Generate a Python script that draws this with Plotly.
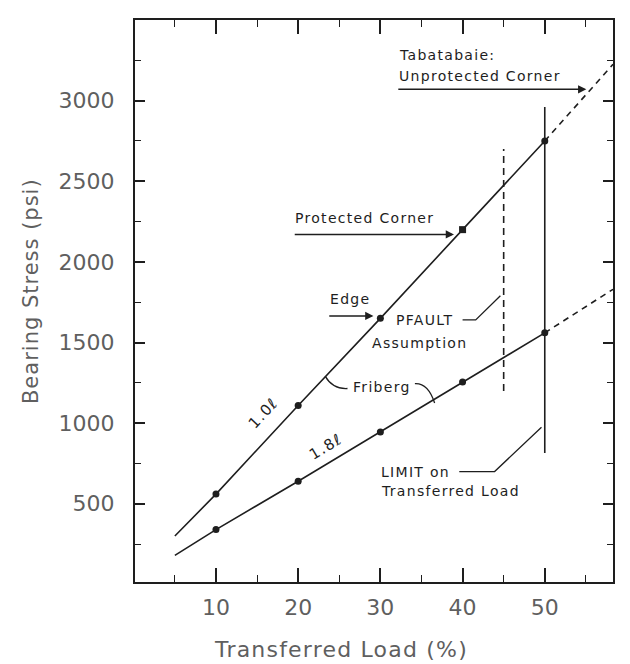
import plotly.graph_objects as go

# ---- data ----
load_pct = [5, 10, 20, 30, 40, 50]
stress_1_0l = [300, 560, 1110, 1650, 2200, 2750]
stress_1_8l = [180, 340, 640, 945, 1255, 1560]
ext_load = [50, 58.3]
ext_1_0l = [2750, 3225]
ext_1_8l = [1560, 1830]
limit_load = [50, 50]
limit_stress = [815, 2960]
pfault_load = [45, 45]
pfault_stress = [1200, 2700]
x_tick_vals = [10, 20, 30, 40, 50]
y_tick_vals = [500, 1000, 1500, 2000, 2500, 3000]

INK = "#1e1e1e"
GREY = "#5f5f5f"
FONT = "DejaVu Sans"

# page body has an 8px margin; plot area wanted at page px x 135..613, y 18..582
OFF = 8
W, H = 630 - OFF, 664 - OFF
L, R, T, B = 135 - OFF, W - (613 - OFF), 18 - OFF, H - (582 - OFF)

fig = go.Figure()

for ys in (stress_1_0l, stress_1_8l):
    fig.add_trace(go.Scatter(x=load_pct, y=ys, mode="lines",
                             line=dict(color=INK, width=1.6), hoverinfo="skip"))
for ys in (ext_1_0l, ext_1_8l):
    fig.add_trace(go.Scatter(x=ext_load, y=ys, mode="lines",
                             line=dict(color=INK, width=1.6, dash="6px,5px"), hoverinfo="skip"))
fig.add_trace(go.Scatter(x=load_pct[1:], y=stress_1_0l[1:], mode="markers",
                         marker=dict(color=INK, size=7,
                                     symbol=["circle", "circle", "circle", "square", "circle"])))
fig.add_trace(go.Scatter(x=load_pct[1:], y=stress_1_8l[1:], mode="markers",
                         marker=dict(color=INK, size=7, symbol="circle")))
fig.add_trace(go.Scatter(x=limit_load, y=limit_stress, mode="lines",
                         line=dict(color=INK, width=1.6)))
fig.add_trace(go.Scatter(x=pfault_load, y=pfault_stress, mode="lines",
                         line=dict(color=INK, width=1.6, dash="7px,5px")))

shapes = [
    dict(type="path", path="M 40.0 1640 L 41.6 1640 L 44.6 1790", line=dict(color=INK, width=1.3)),
    dict(type="path", path="M 39.6 700 L 43.9 700 L 49.6 975", line=dict(color=INK, width=1.3)),
    dict(type="path", path="M 23.3 1290 Q 24.2 1210 26.0 1215", line=dict(color=INK, width=1.3)),
    dict(type="path", path="M 34.2 1245 Q 35.8 1250 36.6 1125", line=dict(color=INK, width=1.3)),
]

anns = []
def sp(s, px):
    return '<span style="letter-spacing:%spx">%s</span>' % (px, s)

def txt(x, y, s, xanchor="left", size=14, angle=0, ls=1.3):
    anns.append(dict(x=x, y=y, xref="x", yref="y", text=sp(s, ls), showarrow=False,
                     xanchor=xanchor, yanchor="middle", textangle=angle,
                     font=dict(family=FONT, size=size, color=INK)))

def arrow(x0, y0, x1, y1):
    anns.append(dict(x=x1, y=y1, ax=x0, ay=y0, xref="x", yref="y", axref="x", ayref="y",
                     text="", showarrow=True, arrowhead=2, arrowsize=1.1, arrowwidth=1.5,
                     arrowcolor=INK, standoff=2))

txt(32.0, 3280, "Tabatabaie:")
txt(32.0, 3155, "Unprotected Corner")
arrow(32.0, 3070, 55.3, 3070)
txt(19.4, 2275, "Protected Corner")
arrow(19.4, 2170, 39.2, 2170)
txt(23.6, 1770, "Edge")
arrow(23.6, 1665, 29.4, 1665)
txt(35.4, 1640, "PFAULT", xanchor="center")
txt(34.8, 1500, "Assumption", xanchor="center")
txt(30.2, 1225, "Friberg", xanchor="center")
txt(15.8, 1060, "1.0ℓ", xanchor="center", angle=-47, size=15)
txt(23.3, 855, "1.8ℓ", xanchor="center", angle=-31, size=15)
txt(29.8, 700, "LIMIT on")
txt(29.8, 580, "Transferred Load")

pw, ph = 613 - 135, 582 - 18
anns.append(dict(x=(341 - 135) / pw, y=(582 - 650) / ph, xref="paper", yref="paper",
                 xanchor="center", yanchor="middle",
                 text=sp("Transferred Load (%)", 1.2), showarrow=False,
                 font=dict(family=FONT, size=22, color=GREY)))
anns.append(dict(x=(31 - 135) / pw, y=(582 - 290) / ph, xref="paper", yref="paper",
                 xanchor="center", yanchor="middle",
                 text=sp("Bearing Stress (psi)", 1.0), textangle=-90, showarrow=False,
                 font=dict(family=FONT, size=21, color=GREY)))

fig.update_layout(
    width=W, height=H,
    margin=dict(l=L, r=R, t=T, b=B),
    paper_bgcolor="white", plot_bgcolor="white",
    showlegend=False,
    shapes=shapes, annotations=anns,
    xaxis=dict(range=[0.15, 58.3], tickvals=x_tick_vals, showgrid=False, zeroline=False,
               showline=True, linecolor=INK, linewidth=2, mirror="ticks",
               ticks="inside", ticklen=14, tickwidth=1.6, tickcolor=INK, ticklabelstandoff=5,
               minor=dict(dtick=5, tick0=5, ticks="inside", ticklen=7, tickwidth=1.4, tickcolor=INK, showgrid=False),
               tickfont=dict(family=FONT, size=22, color=GREY)),
    yaxis=dict(range=[15, 3500], tickvals=y_tick_vals, showgrid=False, zeroline=False,
               showline=True, linecolor=INK, linewidth=2, mirror="ticks",
               ticks="inside", ticklen=10, tickwidth=1.6, tickcolor=INK, ticklabelstandoff=14,
               minor=dict(dtick=250, tick0=0, ticks="inside", ticklen=6, tickwidth=1.4, tickcolor=INK, showgrid=False),
               tickfont=dict(family=FONT, size=22, color=GREY)),
)

fig.write_html("out.html")
